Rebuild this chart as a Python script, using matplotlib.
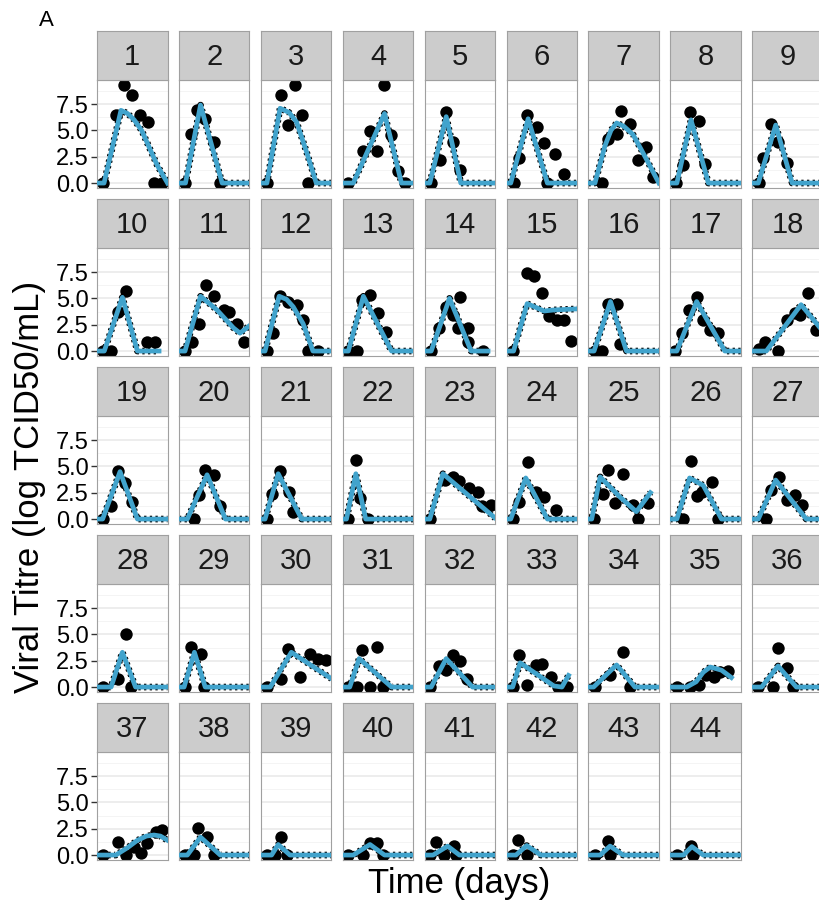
import matplotlib.pyplot as plt

plt.rcParams['font.family'] = ['Liberation Sans', 'DejaVu Sans']

# observed titres (black points), one list per subject
dot_t = [
    [0.7, 3.5, 5.3, 7.0, 8.7, 10.3, 11.6, 13.4],
    [0.9, 2.0, 3.4, 5.1, 6.9, 8.3],
    [0.8, 3.7, 5.3, 6.8, 8.2, 9.6],
    [0.7, 3.9, 5.3, 6.7, 8.2, 9.8, 11.3, 12.7],
    [0.9, 2.7, 4.1, 5.5, 7.1],
    [1.0, 2.2, 3.9, 5.9, 7.5, 8.2, 9.9, 11.7],
    [2.3, 3.7, 5.5, 6.5, 8.4, 10.1, 11.8, 13.2],
    [0.8, 2.3, 3.7, 5.5, 6.9],
    [0.9, 1.8, 3.6, 5.0, 7.0],
    [0.7, 2.5, 3.9, 5.6, 10.2, 11.8],
    [0.8, 2.3, 3.7, 5.3, 6.9, 9.0, 10.1, 11.8, 13.4],
    [0.8, 2.2, 3.6, 5.3, 7.1, 8.5, 9.6, 11.7],
    [0.7, 2.5, 3.5, 5.3, 7.0, 8.8],
    [0.9, 2.5, 4.1, 5.5, 6.7, 7.1, 8.7, 8.7, 12.0],
    [0.8, 3.8, 5.3, 7.1, 8.5, 10.3, 11.7, 13.2],
    [0.9, 2.3, 3.7, 5.5, 6.2],
    [0.6, 2.0, 3.4, 5.1, 6.5, 7.9, 9.7],
    [1.0, 2.2, 5.0, 6.8, 8.5, 9.6, 11.3, 13.1],
    [0.7, 2.5, 3.9, 5.5, 7.0],
    [2.7, 3.7, 5.1, 6.9, 8.3],
    [0.8, 1.8, 3.6, 5.6, 6.4],
    [0.7, 2.3, 3.2, 4.9],
    [0.6, 3.9, 5.5, 6.9, 9.0, 10.8, 11.8, 13.6],
    [0.8, 2.2, 4.1, 5.7, 7.5, 10.1],
    [0.6, 2.5, 3.7, 5.1, 6.9, 9.0, 10.1, 12.2],
    [2.3, 3.9, 5.1, 6.2, 8.3, 9.7],
    [2.5, 3.6, 5.2, 6.8, 8.5, 10.1],
    [0.7, 3.9, 5.6, 6.7],
    [0.9, 2.1, 4.1, 4.8],
    [0.8, 3.9, 5.3, 7.8, 9.9, 11.7, 13.4],
    [0.7, 2.5, 3.7, 5.3, 6.8, 8.1],
    [0.6, 2.5, 4.1, 5.5, 7.1, 8.5],
    [0.8, 2.2, 3.9, 5.7, 7.1, 8.9, 10.4, 12.4],
    [0.9, 4.1, 6.8, 8.4],
    [0.9, 3.7, 5.5, 7.2, 8.7, 10.1, 11.8],
    [0.8, 3.9, 5.0, 6.8, 8.2],
    [0.7, 3.9, 5.6, 7.4, 8.8, 10.2, 12.0, 13.4],
    [0.9, 2.7, 3.5, 5.5, 6.9],
    [0.8, 2.5, 3.7, 5.0],
    [0.7, 3.9, 5.3, 6.8, 8.1],
    [0.6, 2.0, 3.7, 5.8, 6.2],
    [0.8, 2.0, 3.9],
    [0.9, 3.7, 4.1],
    [0.9, 3.9, 4.4],
]
dot_v = [
    [0, 6.5, 9.3, 8.4, 6.5, 5.8, 0, 0],
    [0, 4.7, 6.9, 6.1, 3.9, 0],
    [0, 8.4, 5.5, 9.3, 6.5, 0],
    [0, 3.0, 4.9, 3.0, 9.3, 4.6, 1.1, 0],
    [0, 2.2, 6.7, 3.9, 1.2],
    [0, 2.4, 6.5, 5.3, 3.8, 0, 2.8, 0.9],
    [0, 4.2, 4.7, 6.8, 5.6, 2.2, 3.4, 0.6],
    [0, 1.7, 6.7, 5.9, 1.8],
    [0, 2.4, 5.6, 3.9, 1.9],
    [0, 0, 3.7, 5.7, 0.9, 0.9],
    [0, 0.9, 2.6, 6.3, 5.2, 3.9, 3.7, 2.6, 0.9],
    [0, 1.7, 5.2, 4.7, 4.4, 2.9, 0, 0],
    [0, 0, 4.8, 5.3, 3.6, 1.8],
    [0, 2.2, 4.2, 3.4, 2.2, 5.1, 2.2, 0.9, 0],
    [0, 7.4, 7.1, 5.5, 3.3, 2.9, 2.9, 1.0],
    [0, 0, 4.5, 4.5, 0.7],
    [0, 1.7, 3.9, 5.1, 2.9, 2.0, 1.7],
    [0.2, 0.9, 0, 2.9, 3.6, 3.4, 5.5, 2.0],
    [0, 1.2, 4.6, 3.4, 1.6],
    [0, 2.3, 4.7, 4.2, 1.2],
    [0, 2.4, 4.6, 2.6, 0.7],
    [0, 5.6, 2.0, 0],
    [0, 3.7, 4.0, 3.6, 2.9, 2.6, 1.2, 1.3],
    [0, 1.6, 5.4, 2.6, 2.1, 0.9],
    [0, 2.4, 4.7, 1.5, 4.3, 1.3, 0, 1.5],
    [0, 5.5, 2.2, 2.6, 3.5, 0],
    [0, 2.8, 4.0, 1.8, 2.3, 1.3],
    [0, 0.8, 5.0, 0],
    [0, 3.8, 3.1, 0],
    [0, 0.8, 3.6, 1.0, 3.1, 2.7, 2.6],
    [0, 0, 3.5, 0, 3.8, 0],
    [0, 2.0, 1.6, 3.0, 2.5, 0.8],
    [0, 3.0, 0.2, 2.1, 2.2, 1.0, 0, 0],
    [0, 1.1, 3.3, 0],
    [0, 0, 0.2, 1.1, 1.0, 1.4, 1.5],
    [0, 0, 3.7, 1.8, 0],
    [0, 1.2, 0, 0.8, 0.2, 1.1, 2.2, 2.4],
    [0, 0, 2.6, 1.7, 0],
    [0, 0, 1.7, 0],
    [0, 0, 1.1, 1.1, 0],
    [0, 1.2, 0, 0.9, 0],
    [0, 1.4, 0],
    [0, 1.3, 0],
    [0, 0.9, 0],
]

# fitted model curves (blue)
fit_t = [
    [-0.5, 1.0, 4.6, 6.0, 7.4, 9.0, 10.2, 12.3, 14.5],
    [-0.5, 0.9, 4.1, 8.7, 14.5],
    [-0.5, 0.8, 3.6, 5.5, 7.1, 9.2, 11.3, 14.5],
    [-0.5, 1.75, 8.4, 12.0, 14.5],
    [-0.5, 0.6, 4.1, 7.2, 14.5],
    [-0.5, 0.4, 4.1, 8.2, 14.5],
    [-0.5, 0.9, 3.0, 4.3, 5.5, 7.0, 9.0, 11.8, 14.5],
    [-0.5, 0.9, 3.9, 7.6, 14.5],
    [-0.5, 0.8, 4.5, 8.0, 14.5],
    [-0.5, 1.05, 4.9, 8.1, 12.7],
    [-0.5, 0.8, 4.1, 7.6, 11.1, 12.5, 14.5],
    [-0.5, 0.4, 3.4, 5.0, 6.4, 8.5, 10.6, 14.5],
    [-0.5, 0.7, 3.9, 9.9, 14.5],
    [-0.5, 0.9, 4.8, 9.4, 13.0],
    [-0.5, 1.0, 3.9, 7.5, 9.6, 14.5],
    [-0.5, 0.7, 4.2, 7.6, 14.5],
    [-0.5, 0.9, 5.1, 11.1, 14.5],
    [-0.5, 2.5, 9.9, 14.5],
    [-0.5, 0.7, 4.4, 8.1, 14.5],
    [-0.5, 1.3, 5.5, 9.4, 14.5],
    [-0.5, 0.4, 3.2, 8.2, 14.5],
    [-0.5, 0.3, 2.3, 4.4, 14.5],
    [-0.5, 0.6, 3.4, 14.5],
    [-0.5, 0.4, 3.6, 8.2, 14.5],
    [-0.5, 0.2, 2.0, 6.2, 9.7, 12.7],
    [-0.5, 0.9, 3.6, 6.5, 10.4, 14.5],
    [-0.5, 0.8, 4.5, 11.0, 14.5],
    [-0.5, 2.5, 4.9, 7.7, 14.5],
    [-0.5, 0.6, 2.8, 5.1, 14.5],
    [-0.5, 1.5, 6.0, 14.5],
    [-0.5, 1.0, 3.0, 9.9, 14.5],
    [-0.5, 0.9, 4.1, 9.7, 14.5],
    [-0.5, 0.8, 2.4, 9.6, 11.3, 12.7],
    [-0.5, 0.6, 5.5, 9.4, 14.5],
    [-0.5, 3.0, 5.0, 6.5, 8.0, 10.4, 12.5],
    [-0.5, 1.5, 5.0, 8.9, 14.5],
    [-0.5, 3.5, 6.0, 8.1, 10.0, 11.6, 13.0, 14.5],
    [-0.5, 1.3, 4.1, 8.3, 14.5],
    [-0.5, 1.8, 3.2, 5.7, 14.5],
    [-0.5, 1.75, 5.3, 8.4, 14.5],
    [-0.5, 1.3, 4.4, 6.9, 14.5],
    [-0.5, 1.5, 3.8, 6.8, 14.5],
    [-0.5, 2.0, 4.1, 6.9, 14.5],
    [-0.5, 2.3, 4.1, 6.5, 14.5],
]
fit_v = [
    [0, 0, 6.9, 6.6, 6.0, 5.0, 3.8, 1.7, 0],
    [0, 0, 7.4, 0, 0],
    [0, 0, 7.1, 6.7, 5.8, 3.0, 0, 0],
    [0, 0, 6.6, 0, 0],
    [0, 0, 6.3, 0, 0],
    [0, 0, 6.1, 0, 0],
    [0, 0, 3.5, 5.0, 5.7, 5.4, 4.6, 2.3, 0],
    [0, 0, 6.0, 0, 0],
    [0, 0, 5.5, 0, 0],
    [0, 0, 5.1, 0, 0],
    [0, 0, 5.2, 3.9, 2.2, 1.7, 2.4],
    [0, 0, 5.2, 4.9, 4.2, 2.6, 0, 0],
    [0, 0, 5.2, 0, 0],
    [0, 0, 5.0, 0, 0],
    [0, 0, 4.5, 3.8, 3.9, 4.0],
    [0, 0, 4.7, 0, 0],
    [0, 0, 4.7, 0, 0],
    [0, 0, 4.4, 1.9],
    [0, 0, 4.5, 0, 0],
    [0, 0, 4.2, 0, 0],
    [0, 0, 4.3, 0, 0],
    [0, 0, 4.3, 0, 0],
    [0, 0, 4.3, 0.1],
    [0, 0, 3.9, 0, 0],
    [0, 0, 4.0, 2.1, 0.7, 2.5],
    [0, 0, 3.9, 3.2, 0, 0],
    [0, 0, 3.7, 0, 0],
    [0, 0, 3.3, 0, 0],
    [0, 0, 3.3, 0, 0],
    [0, 0, 3.3, 0.8],
    [0, 0, 2.7, 0, 0],
    [0, 0, 2.7, 0, 0],
    [0, 0, 2.3, 0.1, 0, 1.1],
    [0, 0, 2.1, 0, 0],
    [0, 0, 0.5, 1.4, 1.9, 1.6, 0.9],
    [0, 0, 2.0, 0, 0],
    [0, 0, 0.7, 1.4, 1.8, 1.9, 1.8, 1.4],
    [0, 0, 1.7, 0, 0],
    [0, 0, 1.0, 0, 0],
    [0, 0, 1.0, 0, 0],
    [0, 0, 0.85, 0, 0],
    [0, 0, 0.9, 0, 0],
    [0, 0, 0.85, 0, 0],
    [0, 0, 0.8, 0, 0],
]

y_ticks = [0, 2.5, 5.0, 7.5]
y_tick_labels = ['0.0', '2.5', '5.0', '7.5']

W, H = 819, 906
fig = plt.figure(figsize=(W / 100, H / 100), dpi=100)
fig.patch.set_facecolor('white')

blue = '#41a3cc'
edge = '#a0a0a0'

for i in range(len(dot_t)):
    r, c = divmod(i, 9)
    left = 97 + 81.9 * c
    top = 31 + 168 * r
    ax = fig.add_axes([left / W, 1 - (top + 157) / H, 70.5 / W, 108 / H])
    strip = fig.add_axes([left / W, 1 - (top + 49) / H, 70.5 / W, 49 / H])

    strip.set_facecolor('#cccccc')
    strip.set_xticks([])
    strip.set_yticks([])
    for s in strip.spines.values():
        s.set_color(edge)
    strip.text(0.5, 0.47, str(i + 1), ha='center', va='center',
               fontsize=21, color='#1a1a1a', transform=strip.transAxes)

    ax.scatter(dot_t[i], dot_v[i], s=80, color='black', lw=0, zorder=2)
    ax.plot(fit_t[i], fit_v[i], color='black', lw=4.8,
            ls=(0, (0.35, 0.5)), zorder=2.5)
    ax.plot(fit_t[i], fit_v[i], color=blue, lw=3.4, zorder=3,
            solid_joinstyle='round')

    ax.set_xlim(-0.5, 14.5)
    ax.set_ylim(-0.47, 9.78)
    ax.set_xticks([])
    ax.set_yticks(y_ticks)
    ax.set_yticks([1.25, 3.75, 6.25, 8.75], minor=True)
    ax.grid(which='major', axis='y', color='#e8e8e8', lw=1.1)
    ax.grid(which='minor', axis='y', color='#f4f4f4', lw=0.7)
    ax.set_axisbelow(True)
    for s in ax.spines.values():
        s.set_color(edge)
    ax.tick_params(which='minor', length=0)
    if c == 0:
        ax.set_yticklabels(y_tick_labels)
        ax.tick_params(axis='y', which='major', length=4, width=1,
                       color='#333333', labelsize=17, pad=2,
                       labelcolor='black')
    else:
        ax.tick_params(axis='y', which='major', length=0, labelleft=False)

fig.text(46 / W, 1 - 20 / H, 'A', fontsize=16, ha='center', va='center')
fig.text(459 / W, 1 - 883 / H, 'Time (days)', fontsize=25,
         ha='center', va='center')
fig.text(30 / W, 1 - 487 / H, 'Viral Titre (log TCID50/mL)', fontsize=25,
         rotation=90, ha='center', va='center')

fig.savefig('out.png', dpi=100)
